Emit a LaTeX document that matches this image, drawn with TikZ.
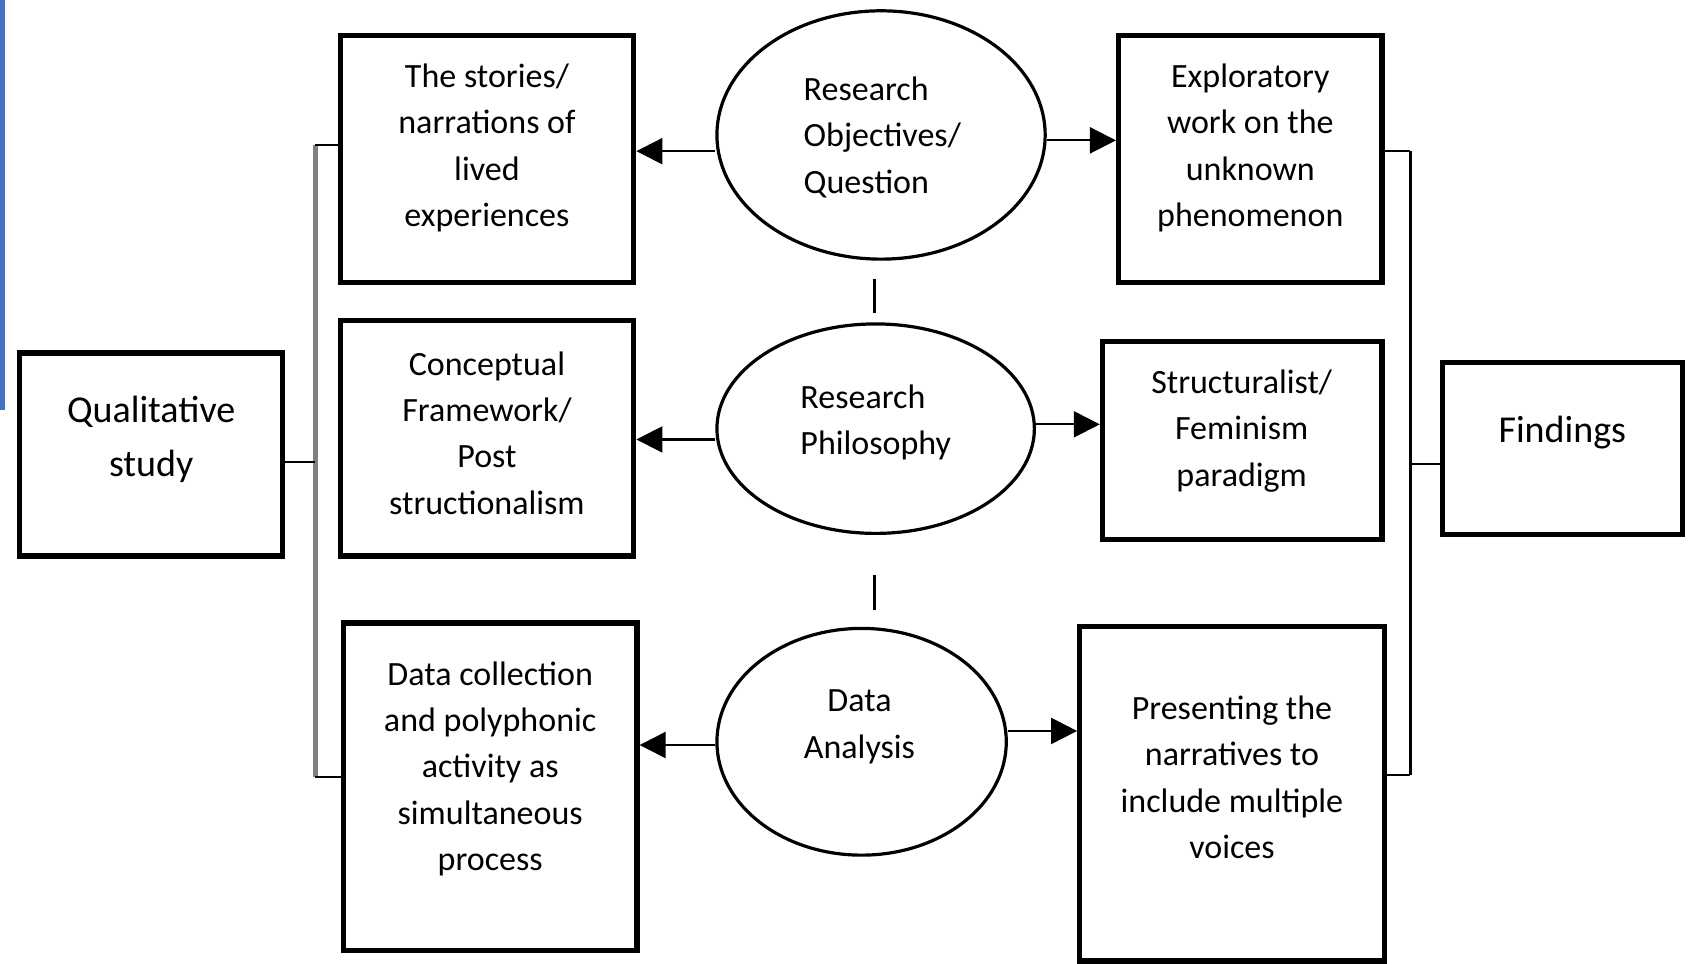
\documentclass[tikz,border=0pt]{standalone}
\usepackage{fontspec}
\setmainfont{Carlito}
\usetikzlibrary{shapes.geometric,arrows.meta,calc}
\def\U{0.5398pt}
\tikzset{
  box/.style={draw, line width=2.6pt, rectangle, inner sep=0pt},
  ell/.style={draw, line width=1.6pt, ellipse, inner sep=0pt},
  txt/.style={align=center, font=\fontsize{17}{23.2}\selectfont, inner sep=0pt},
  big/.style={align=center, font=\fontsize{19}{27}\selectfont, inner sep=0pt},
  arr/.style={line width=1.1pt, -{Triangle[length=13pt,width=13pt]}},
  tick/.style={line width=1pt},
  lbrack/.style={draw=gray, line width=2.6pt},
  rbrack/.style={line width=1.4pt},
  sep/.style={line width=1.2pt}
}
\newcommand\mkbox[5]{\node[box, minimum width={(#4-#2)*\U}, minimum height={(#5-#3)*\U}] (#1) at ({(#2+#4)/2},{(#3+#5)/2}) {};}
\newcommand\mkell[5]{\node[ell, minimum width={(#4-#2)*\U}, minimum height={(#5-#3)*\U}] (#1) at ({(#2+#4)/2},{(#3+#5)/2}) {};}
\begin{document}
\begin{tikzpicture}[x=\U, y=-\U]
\useasboundingbox (0,0) rectangle (1568,892);
\fill[fill={rgb,255:red,68;green,114;blue,196}] (0,0) rectangle (5,380);

% boxes
\mkbox{q}{18}{327}{262}{515}
\mkbox{b1}{315}{33}{587}{262}
\mkbox{b2}{315}{297}{587}{515}
\mkbox{b3}{318}{577}{590}{880}
\mkbox{r1}{1036}{33}{1280}{262}
\mkbox{r2}{1021}{316}{1280}{500}
\mkbox{r3}{1000}{580}{1282}{890}
\mkbox{fi}{1336}{336}{1558}{495}

% ellipses
\mkell{e1}{664}{10}{968}{240}
\mkell{e2}{664}{300}{958}{494}
\mkell{e3}{664}{582}{932}{792}

% texts
\node[big] (tq) at (140,407) {Qualitative\\study};
\node[big] (tf) at (1447,401) {Findings};
\node[txt] (t1) at (451,137) {The stories/\\narrations of\\lived\\experiences};
\node[txt] (t2) at (451,401) {Conceptual\\Framework/\\Post\\structionalism};
\node[txt] (t3) at (454,712) {Data collection\\and polyphonic\\activity as\\simultaneous\\process};
\node[txt] (tr1) at (1158,137) {Exploratory\\work on the\\unknown\\phenomenon};
\node[txt] (tr2) at (1150,399) {Structuralist/\\Feminism\\paradigm};
\node[txt] (tr3) at (1141,720) {Presenting the\\narratives to\\include multiple\\voices};
\node[txt, align=left, anchor=west] (te1) at (744,127) {Research\\Objectives/\\Question};
\node[txt, align=left, anchor=west] (te2) at (741,391) {Research\\Philosophy};
\node[txt] (te3) at (796,673) {Data\\Analysis};

% arrows
\draw[arr] (e1.west |- 0,140) -- (b1.east |- 0,140);
\draw[arr] (e1.east |- 0,130) -- (r1.west |- 0,130);
\draw[arr] (e2.west |- 0,407) -- (b2.east |- 0,407);
\draw[arr] (e2.east |- 0,393) -- (r2.west |- 0,393);
\draw[arr] (e3.west |- 0,690) -- (b3.east |- 0,690);
\draw[arr] (e3.east |- 0,677) -- (r3.west |- 0,677);

% separators
\coordinate (s1a) at (810,258); \coordinate (s1b) at (810,290);
\coordinate (s2a) at (810,533); \coordinate (s2b) at (810,565);
\draw[sep] (s1a) -- (s1b);
\draw[sep] (s2a) -- (s2b);

% left bracket
\coordinate (lt) at (292,134); \coordinate (lm) at (292,428); \coordinate (lb) at (292,720);
\draw[lbrack] (lt) -- (lb);
\draw[tick] (lt) -- (b1.west |- lt);
\draw[tick] (lb) -- (b3.west |- lb);
\draw[tick] (q.east |- lm) -- (lm);

% right bracket
\coordinate (rt) at (1306,140); \coordinate (rm) at (1306,430); \coordinate (rb) at (1306,718);
\draw[rbrack] (rt) -- (rb);
\draw[tick] (r1.east |- rt) -- (rt);
\draw[tick] (r3.east |- rb) -- (rb);
\draw[tick] (rm) -- (fi.west |- rm);
\end{tikzpicture}
\end{document}
